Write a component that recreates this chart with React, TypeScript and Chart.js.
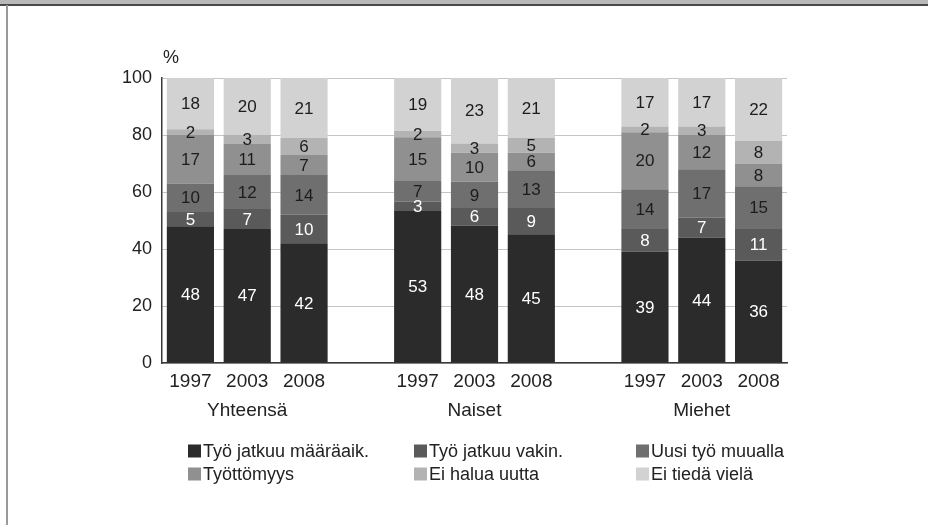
import React, { useEffect, useRef } from 'react';
import { Chart, registerables } from 'chart.js';

Chart.register(...registerables);

// ---- data ----
const years = ['1997', '2003', '2008'];
const groups = ['Yhteensä', 'Naiset', 'Miehet'];
const seriesNames = [
  'Työ jatkuu määräaik.',
  'Työ jatkuu vakin.',
  'Uusi työ muualla',
  'Työttömyys',
  'Ei halua uutta',
  'Ei tiedä vielä',
];
// order: Yhteensä 1997, 2003, 2008 | Naiset 1997, 2003, 2008 | Miehet 1997, 2003, 2008
const tyoJatkuuMaaraaik = [48, 47, 42, 53.3, 48.2, 45.2, 39, 44, 36];
const tyoJatkuuVakin = [5, 7, 10, 3.3, 6.2, 9.2, 8, 7, 11];
const uusiTyoMuualla = [10, 12, 14, 7.3, 9.2, 13.2, 14, 17, 15];
const tyottomyys = [17, 11, 7, 15.3, 10.2, 6.2, 20, 12, 8];
const eiHaluaUutta = [2, 3, 6, 2.3, 3.2, 5.2, 2, 3, 8];
const eiTiedaViela = [18, 20, 21, 18.5, 23, 21, 17, 17, 22];
const yTicks = [0, 20, 40, 60, 80, 100];
const yUnit = '%';

const seriesValues = [
  tyoJatkuuMaaraaik,
  tyoJatkuuVakin,
  uusiTyoMuualla,
  tyottomyys,
  eiHaluaUutta,
  eiTiedaViela,
];
const seriesColors = ['#2b2b2b', '#5a5a5a', '#6f6f6f', '#909090', '#b3b3b3', '#d2d2d2'];
const labelColors = ['#ffffff', '#ffffff', '#1c1c1c', '#1c1c1c', '#1c1c1c', '#1c1c1c'];

const FONT = "'Liberation Sans', Arial, sans-serif";

// categories with empty separator slots between groups
const categories: (string | string[])[] = [];
const slotIndex: number[] = []; // data index -> category slot
groups.forEach((g, gi) => {
  years.forEach((y, yi) => {
    slotIndex.push(categories.length);
    categories.push(yi === 1 ? [y, g] : y);
  });
  if (gi < groups.length - 1) categories.push('');
});

function expand(values: number[]): (number | null)[] {
  const out: (number | null)[] = categories.map(() => null);
  values.forEach((v, i) => {
    out[slotIndex[i]] = v;
  });
  return out;
}

const segmentLabels = {
  id: 'segmentLabels',
  afterDatasetsDraw(chart: any) {
    const ctx = chart.ctx;
    ctx.save();
    ctx.font = `17px ${FONT}`;
    ctx.textAlign = 'center';
    ctx.textBaseline = 'middle';
    chart.data.datasets.forEach((ds: any, di: number) => {
      const meta = chart.getDatasetMeta(di);
      meta.data.forEach((el: any, i: number) => {
        const v = ds.data[i];
        if (v === null || v === undefined) return;
        const p = el.getProps(['x', 'y', 'base'], true);
        ctx.fillStyle = labelColors[di];
        ctx.fillText(String(Math.round(v)), p.x, (p.y + p.base) / 2 + 1);
      });
    });
    ctx.restore();
  },
};

const extras = {
  id: 'extras',
  afterDraw(chart: any) {
    const ctx = chart.ctx;
    const area = chart.chartArea;
    ctx.save();
    // unit label
    ctx.font = `18px ${FONT}`;
    ctx.fillStyle = '#222';
    ctx.textAlign = 'left';
    ctx.textBaseline = 'middle';
    ctx.fillText(yUnit, area.left + 1, area.top - 20);
    // legend
    const cols = [188, 414, 636];
    const rows = [451, 474];
    ctx.font = `18px ${FONT}`;
    seriesNames.forEach((name, i) => {
      const x = cols[i % 3];
      const y = rows[Math.floor(i / 3)];
      ctx.fillStyle = seriesColors[i];
      ctx.fillRect(x, y - 6.5, 13, 13);
      ctx.fillStyle = '#222';
      ctx.fillText(name, x + 15, y + 1);
    });
    ctx.restore();
  },
};

export default function App() {
  const ref = useRef<HTMLCanvasElement | null>(null);

  useEffect(() => {
    if (!ref.current) return;
    const chart = new Chart(ref.current, {
      type: 'bar',
      data: {
        labels: categories,
        datasets: seriesNames.map((name, i) => ({
          label: name,
          data: expand(seriesValues[i]),
          backgroundColor: seriesColors[i],
          borderWidth: 0,
          categoryPercentage: 1,
          barPercentage: 0.83,
        })),
      },
      options: {
        animation: false,
        responsive: false,
        maintainAspectRatio: false,
        layout: { padding: { left: 0, top: 78, right: 141, bottom: 0 } },
        plugins: {
          legend: { display: false },
          tooltip: { enabled: false },
          title: { display: false },
        },
        scales: {
          x: {
            stacked: true,
            grid: { display: false, drawTicks: false },
            border: { display: true, color: '#3a3a3a', width: 1.5 },
            ticks: {
              color: '#222',
              font: { family: FONT, size: 19, lineHeight: 1.55 },
              padding: 4,
              maxRotation: 0,
              autoSkip: false,
            },
            afterFit: (s: any) => {
              s.height = 162;
            },
          },
          y: {
            stacked: true,
            min: 0,
            max: 100,
            afterBuildTicks: (s: any) => {
              s.ticks = yTicks.map((v) => ({ value: v }));
            },
            grid: { color: '#c4c4c4', lineWidth: 1, drawTicks: false },
            border: { display: true, color: '#3a3a3a', width: 1.5 },
            ticks: {
              color: '#222',
              font: { family: FONT, size: 18 },
              padding: 10,
            },
            afterFit: (s: any) => {
              s.width = 162;
            },
          },
        },
      },
      plugins: [segmentLabels, extras],
    });
    return () => chart.destroy();
  }, []);

  return (
    <div style={{ position: 'absolute', left: 0, top: 0, width: 928, height: 525, background: '#fff', overflow: 'hidden' }}>
      <div style={{ position: 'absolute', left: 0, top: 0, width: 928, height: 4, background: '#b9b9b9' }} />
      <div style={{ position: 'absolute', left: 0, top: 4, width: 928, height: 1.5, background: '#4a4a4a' }} />
      <div style={{ position: 'absolute', left: 6, top: 5, width: 1.5, height: 520, background: '#9a9a9a' }} />
      <canvas ref={ref} width={928} height={525} style={{ position: 'absolute', left: 0, top: 0, width: 928, height: 525 }} />
    </div>
  );
}
